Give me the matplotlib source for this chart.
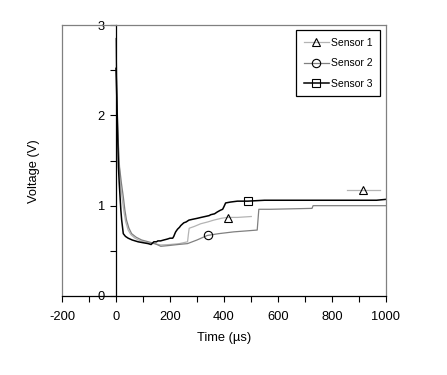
import matplotlib
matplotlib.use("Agg")
import matplotlib.pyplot as plt
from matplotlib.lines import Line2D
from matplotlib.ticker import MultipleLocator

plt.rcParams["font.family"] = ["Liberation Sans", "DejaVu Sans"]
plt.rcParams["axes.unicode_minus"] = False

# ─── DATA ────────────────────────────────────────────────────
t1 = [0, 3, 6, 10, 13, 18, 24, 30, 36, 45, 55, 70, 90, 115, 140, 166, 200,
      235, 265, 268, 271, 290, 314, 340, 362, 390, 412, 450, 501]
v1 = [2.85, 2.3, 1.9, 1.55, 1.40, 1.20, 1.05, 0.92, 0.82, 0.73, 0.68, 0.64,
      0.61, 0.59, 0.58, 0.565, 0.57, 0.58, 0.60, 0.68, 0.75, 0.77, 0.80,
      0.82, 0.84, 0.86, 0.87, 0.87, 0.88]
t1_extra = [855, 978]
v1_extra = [1.17, 1.17]

t2 = [0, 3, 6, 10, 13, 20, 27, 33, 39, 48, 58, 75, 95, 120, 144, 166, 200,
      230, 265, 300, 338, 380, 436, 480, 523, 529, 572, 650, 726, 730, 850, 1000]
v2 = [2.85, 2.3, 1.9, 1.6, 1.43, 1.25, 1.10, 0.95, 0.84, 0.75, 0.69, 0.65,
      0.62, 0.60, 0.58, 0.55, 0.56, 0.57, 0.58, 0.62, 0.67, 0.69, 0.71, 0.72,
      0.73, 0.96, 0.96, 0.965, 0.97, 1.00, 1.00, 1.00]

t3 = [0, 3, 6, 9, 12, 15, 18, 21, 27, 35, 45, 60, 82, 100, 119, 130, 140,
      150, 155, 165, 177, 190, 200, 210, 214, 218, 221, 228, 235, 240, 251,
      260, 270, 285, 301, 315, 330, 345, 351, 365, 375, 387, 395, 400, 406,
      424, 450, 488, 550, 650, 750, 850, 965, 1000]
v3 = [2.52, 2.2, 1.8, 1.43, 1.25, 1.10, 0.95, 0.84, 0.69, 0.66, 0.64, 0.62,
      0.60, 0.59, 0.58, 0.57, 0.60, 0.60, 0.61, 0.61, 0.62, 0.63, 0.64, 0.64,
      0.66, 0.69, 0.71, 0.74, 0.76, 0.78, 0.81, 0.82, 0.84, 0.85, 0.86, 0.87,
      0.88, 0.89, 0.90, 0.91, 0.93, 0.95, 0.96, 0.99, 1.03, 1.04, 1.05, 1.05,
      1.06, 1.06, 1.06, 1.06, 1.06, 1.07]

# marker positions (one symbol per curve, as in the source figure)
m1_t, m1_v = [416, 916], [0.86, 1.17]
m2_t, m2_v = [342], [0.67]
m3_t, m3_v = [488], [1.05]

labels = ["Sensor 1", "Sensor 2", "Sensor 3"]
colors = ["#b4b4b4", "#808080", "#000000"]
markers = ["^", "o", "s"]
FS = 9.3

# ─── FIGURE ──────────────────────────────────────────────────
fig = plt.figure(figsize=(4.47, 3.75), dpi=100)
ax = fig.add_axes([62 / 447, 1 - 296 / 375, 324 / 447, 271 / 375])

ax.plot(t1, v1, color=colors[0], lw=0.9)
ax.plot(t1_extra, v1_extra, color=colors[0], lw=0.9)
ax.plot(t2, v2, color=colors[1], lw=0.9)
ax.plot(t3, v3, color=colors[2], lw=1.1)

mk = dict(linestyle="none", markersize=6, markerfacecolor="none",
          markeredgecolor="black", markeredgewidth=0.8)
ax.plot(m1_t, m1_v, marker=markers[0], **mk)
ax.plot(m2_t, m2_v, marker=markers[1], **mk)
ax.plot(m3_t, m3_v, marker=markers[2], **mk)

ax.set_xlim(-200, 1000)
ax.set_ylim(0, 3)

# axes : y axis drawn at t = 0, grey frame around
ax.spines["left"].set_position(("data", 0))
ax.spines["left"].set_linewidth(0.9)
ax.spines["bottom"].set_linewidth(0.9)
for s in ["top", "right"]:
    ax.spines[s].set_color("#808080")
    ax.spines[s].set_linewidth(0.9)
ax.plot([0, 0], [0, 1], transform=ax.transAxes, color="#808080",
        lw=0.9, clip_on=False)

ax.xaxis.set_major_locator(MultipleLocator(200))
ax.xaxis.set_minor_locator(MultipleLocator(100))
ax.yaxis.set_major_locator(MultipleLocator(1))
ax.yaxis.set_minor_locator(MultipleLocator(0.5))
ax.tick_params(axis="both", which="both", direction="out", width=0.8,
               labelsize=FS)
ax.tick_params(axis="x", which="both", length=4, pad=7)
ax.tick_params(axis="y", which="both", length=4, pad=4)

ax.set_xlabel("Time (µs)", fontsize=FS)
ax.set_ylabel("Voltage (V)", fontsize=FS)
ax.xaxis.set_label_coords(0.5, -0.133)
ax.yaxis.set_label_coords(-0.068, 0.459)

handles = [Line2D([], [], color=c, lw=0.9 if i < 2 else 1.1, marker=m,
                  markersize=6, markerfacecolor="none",
                  markeredgecolor="black", markeredgewidth=0.8)
           for i, (c, m) in enumerate(zip(colors, markers))]
leg = ax.legend(handles, labels, loc="upper left",
                bbox_to_anchor=(296 / 447, 1 - 30 / 375),
                bbox_transform=fig.transFigure, fontsize=7.5,
                fancybox=False, framealpha=1, edgecolor="black",
                handlelength=2.4, handletextpad=0.2, labelspacing=1.0,
                borderpad=0.75, borderaxespad=0)
leg.get_frame().set_linewidth(0.9)

fig.savefig("out.png", dpi=100)
